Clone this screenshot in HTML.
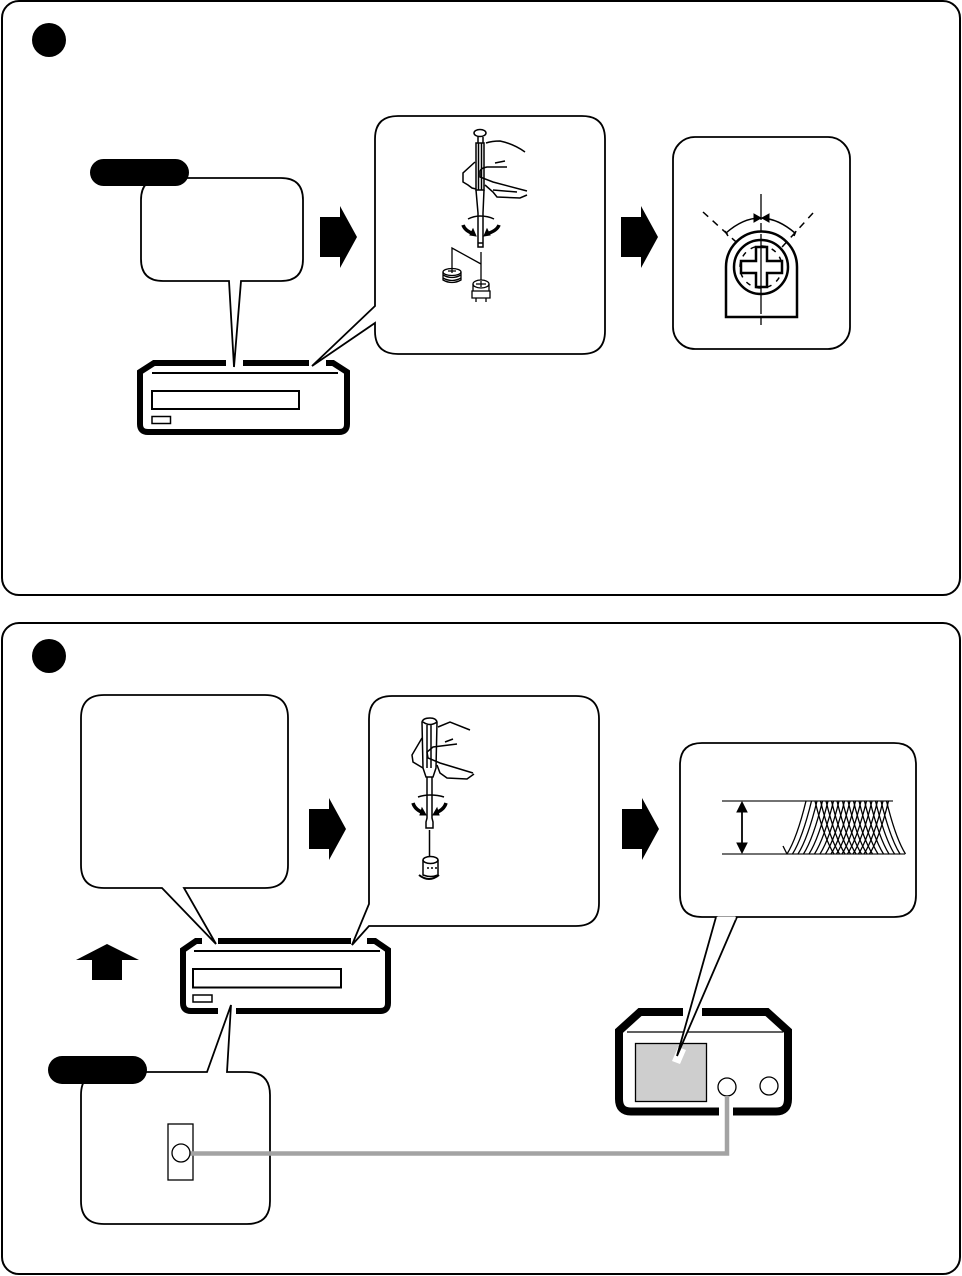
<!DOCTYPE html>
<html>
<head>
<meta charset="utf-8">
<style>
html,body{margin:0;padding:0;background:#fff;width:962px;height:1276px;overflow:hidden}
svg{display:block}
</style>
</head>
<body>
<svg width="962" height="1276" viewBox="0 0 962 1276" xmlns="http://www.w3.org/2000/svg" fill="none" stroke="#000">
<defs>
<path id="arw" d="M-18 -20H2V-31L19 0L2 31V20H-18Z" fill="#000" stroke="none"/>
<path id="up" d="M787 854Q797 838 806 801" stroke-width="1.3"/>
<path id="dn" d="M815 801Q824 838 834 854" stroke-width="1.3"/>
</defs>
<rect x="2" y="1" width="958" height="594" rx="17" stroke-width="2"/>
<rect x="2" y="623" width="958" height="651" rx="17" stroke-width="2"/>
<circle cx="49" cy="40" r="17" fill="#000" stroke="none"/>
<circle cx="49" cy="656" r="17" fill="#000" stroke="none"/>

<!-- Device 1 -->
<path d="M226 363H154L140 372V424Q140 432 148 432H339Q347 432 347 424V372L333 363H326M309 363H243" stroke-width="6"/>
<path d="M152 373H338" stroke-width="2"/>
<rect x="152" y="391" width="147" height="18" stroke-width="2"/>
<rect x="152" y="416.500" width="18.500" height="7" stroke-width="1.500"/>

<!-- Bubble 1 left -->
<path d="M163 178H281Q303 178 303 200V259Q303 281 281 281H241L234 367L229 281H163Q141 281 141 259V200Q141 178 163 178Z" fill="#fff" stroke-width="1.800"/>
<rect x="90" y="159" width="99" height="27" rx="13.500" fill="#000" stroke="none"/>
<use href="#arw" x="338" y="237"/>

<!-- Bubble 1 mid -->
<path d="M398 116H582Q605 116 605 139V331Q605 354 582 354H398Q375 354 375 331V323L312 366L375 306V139Q375 116 398 116Z" fill="#fff" stroke-width="1.800"/>
<g stroke-width="1.500">
<ellipse cx="480" cy="133" rx="6" ry="3.500"/>
<path d="M478 137V143H483V137M476 143H484V190H476ZM478.500 143V190M481.500 143V190"/>
<path d="M476 190L478 213V247H483V213L484 190M478 243H483"/>
<path d="M486 143Q492 141 500 141Q514 144 525 152M475 162L463 173V182L468 185L472 188L476 189M507 167H487Q481 168 480 171V177L493 182L527 191M495 163L505 161M485 185L493 192L497 197L520 198L527 195M493 190L517 192"/>
<path d="M468 219Q474 216 480 216Q488 216 494 219"/>
</g>
<path d="M463 225Q465 231 474 234M499 225Q497 231 486 234" stroke-width="3.500"/>
<path d="M476 236L470 235L473 229ZM484 236L490 235L487 229Z" fill="#000" stroke-width="1"/>
<g stroke-width="1.300">
<path d="M481 252V280M481 264L452 248V268"/>
<ellipse cx="452" cy="272" rx="9" ry="3.500"/>
<path d="M443 272V280Q452 285 461 280V272M443 275Q452 280 461 275M443 278Q452 283 461 278M448 271H456M452 269V273"/>
<ellipse cx="481" cy="284" rx="8" ry="4"/>
<path d="M473 284V291H472V298H490V291H489V284M476 284H486M481 281V287M473 291H489M476 298V302M486 298V302"/>
</g>
<use href="#arw" x="639" y="237"/>

<!-- Bubble 1 right -->
<rect x="673" y="137" width="177" height="212" rx="22" fill="#fff" stroke-width="1.800"/>
<g>
<path d="M726 317V267A35.500 35.500 0 0 1 797 267V317Z" stroke-width="2.500"/>
<path d="M703 212L745 250M813 213L773 257" stroke-width="1.500" stroke-dasharray="7 6"/>
<circle cx="761" cy="267" r="27" stroke-width="2.500" fill="#fff"/>
<circle cx="761" cy="267" r="21" stroke-width="1.500" stroke-dasharray="5 6"/>
<path d="M756 247H767V261H782V273H767V287H756V273H741V261H756Z" stroke-width="2.500" fill="#fff"/>
<path d="M761 194V327" stroke-width="1.300" stroke-dasharray="26 3 8 3 80 3 8 3"/>
<path d="M726 233Q760 203 795 233" stroke-width="1.500"/>
<path d="M725 231L728 236M796 231L794 236" stroke-width="1.500"/>
<path d="M754 214L761 218L754 222ZM769 214L762 218L769 222Z" fill="#000" stroke-width="1"/>
</g>

<!-- Device 2 -->
<path d="M202 941H196L183 950V1003Q183 1011 191 1011H218M236 1011H380Q388 1011 388 1003V950L375 941H367M351 941H218" stroke-width="6"/>
<path d="M194 951H380" stroke-width="2"/>
<rect x="193" y="969" width="148" height="18.500" stroke-width="2"/>
<rect x="193" y="995" width="19" height="7" stroke-width="1.500"/>

<!-- Up arrow -->
<path d="M107 944L139 960H122V980H92V960H76Z" fill="#000" stroke="none"/>

<!-- Bubble 2 left -->
<path d="M104 695H265Q288 695 288 718V865Q288 888 265 888H184L216 944L162 888H104Q81 888 81 865V718Q81 695 104 695Z" fill="#fff" stroke-width="1.800"/>
<use href="#arw" x="327" y="829"/>

<!-- Bubble 2 mid -->
<path d="M392 696H576Q599 696 599 719V903Q599 926 576 926H369L352 945L369 904V719Q369 696 392 696Z" fill="#fff" stroke-width="1.800"/>
<g stroke-width="1.500">
<path d="M422 722Q423 718 430 718Q436 718 437 722L436 768L433 777H426L423 768ZM423 722Q430 727 437 722M427 725V768M431 725V768"/>
<path d="M427 777V818L426 822V828H433V822L432 818V777"/>
<path d="M438 727L450 722L470 730M422 738L412 755L413 762L423 768M457 744L433 747L427 752L428 758L440 763L473 773M445 742L453 739M437 765L440 773L447 778L467 779L474 774"/>
<path d="M418 797Q424 795 430 795Q438 795 444 797"/>
<path d="M429.500 830V857"/>
</g>
<path d="M413 803Q415 810 424 813M446 803Q444 810 435 813" stroke-width="3.500"/>
<path d="M426 815L420 815L422 808ZM433 815L439 815L437 808Z" fill="#000" stroke-width="1"/>
<g stroke-width="1.500">
<ellipse cx="430.500" cy="860" rx="7.500" ry="3.500"/>
<path d="M423 860V875Q431 878 438 875V860M427 868H429M431 868H433M435 868H437"/>
<path d="M419 875Q429 883 439 875" stroke-width="2"/>
</g>
<use href="#arw" x="640" y="829"/>

<!-- Waveform bubble -->
<path d="M702 743H894Q916 743 916 765V895Q916 917 894 917H702Q680 917 680 895V765Q680 743 702 743Z" fill="#fff" stroke-width="1.800"/>
<path d="M722 801H893M722 854H905" stroke-width="1.500" stroke="#444"/>
<path d="M742 803V852" stroke-width="1.800"/>
<path d="M737 812L742 802L747 812ZM737 843L742 853L747 843Z" fill="#000" stroke-width="1"/>
<path d="M783 846L787 854" stroke-width="1.300"/>
<g>
<use href="#up"/><use href="#up" x="5.500"/><use href="#up" x="11"/><use href="#up" x="16.500"/><use href="#up" x="22"/><use href="#up" x="27.500"/><use href="#up" x="33"/><use href="#up" x="38.500"/><use href="#up" x="44"/><use href="#up" x="49.500"/><use href="#up" x="55"/><use href="#up" x="60.500"/><use href="#up" x="66"/><use href="#up" x="71.500"/><use href="#up" x="77"/><use href="#up" x="82.500"/>
<use href="#dn"/><use href="#dn" x="5.500"/><use href="#dn" x="11"/><use href="#dn" x="16.500"/><use href="#dn" x="22"/><use href="#dn" x="27.500"/><use href="#dn" x="33"/><use href="#dn" x="38.500"/><use href="#dn" x="44"/><use href="#dn" x="49.500"/><use href="#dn" x="55"/><use href="#dn" x="60.500"/><use href="#dn" x="66"/><use href="#dn" x="71.500"/>
</g>

<!-- Analyzer -->
<path d="M683 1012H640L619 1031V1099Q619 1111.500 631 1111.500H719M733 1111.500H776Q788 1111.500 788 1099V1031L767 1012H702" stroke-width="8"/>
<path d="M627 1032H783" stroke-width="1.300"/>
<rect x="635.500" y="1043.500" width="71" height="58" fill="#cecece" stroke-width="1.300"/>
<path d="M672 1061L680 1064L686 1050L678 1047Z" fill="#fff" stroke="none"/>
<path d="M716 917L677 1056L737 917Z" fill="#fff" stroke="none"/>
<path d="M716 917L677 1056L737 917" stroke-width="1.800"/>
<path d="M717.500 918H735.500" stroke="#fff" stroke-width="3"/>
<circle cx="727" cy="1087" r="9" fill="#fff" stroke-width="1.300"/>
<circle cx="769" cy="1086" r="9" fill="#fff" stroke-width="1.300"/>

<!-- Bottom bubble -->
<path d="M104 1072H207L231 1005L227 1072H247Q270 1072 270 1095V1201Q270 1224 247 1224H104Q81 1224 81 1201V1095Q81 1072 104 1072Z" fill="#fff" stroke-width="1.800"/>
<rect x="48" y="1056" width="99" height="28" rx="14" fill="#000" stroke="none"/>
<rect x="168" y="1124" width="25" height="56" stroke-width="1.300" fill="#fff"/>
<path d="M190 1153.500H727V1096" stroke="#a3a3a3" stroke-width="4.500"/>
<circle cx="181" cy="1153" r="9" fill="#fff" stroke-width="1.300"/>
</svg>
</body>
</html>
